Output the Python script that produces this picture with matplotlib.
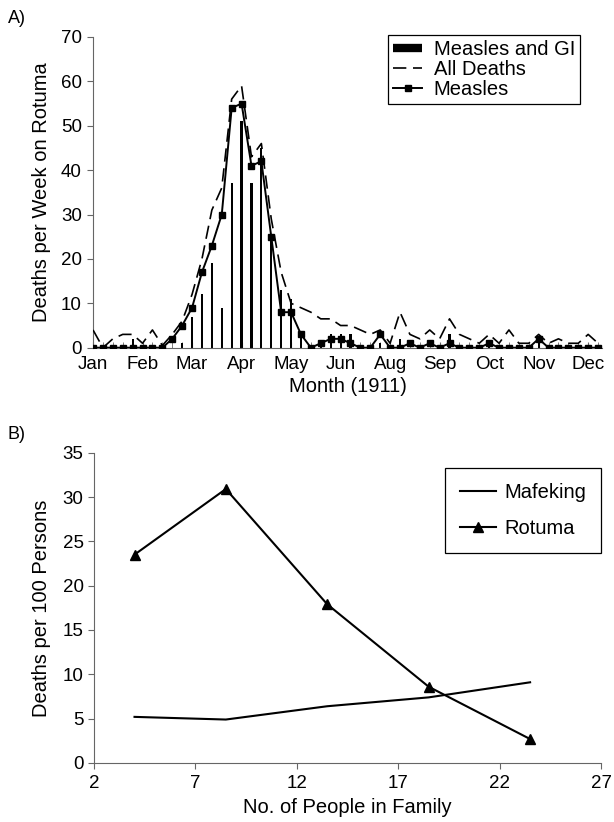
import matplotlib
matplotlib.use('Agg')
from matplotlib import pyplot as plt
from matplotlib.lines import Line2D

plt.rcParams['font.family'] = ['Liberation Sans', 'DejaVu Sans']

# A) weekly deaths on Rotuma, 1911 (52 weeks)
weeks = list(range(52))
measles_gi = [0, 0, 0, 0, 2, 0, 0, 0, 0, 1, 7, 12, 19, 9, 37, 51, 37, 45, 24, 13,
              11, 3, 0, 1, 3, 3, 3, 0, 0, 1, 0, 2, 0, 0, 0, 0, 3, 0, 0, 0,
              1, 0, 0, 0, 0, 1, 0, 0, 0, 0, 0, 0]
all_deaths = [4, 0, 2, 3, 3, 1, 4, 0.5, 3, 6, 12, 20, 31, 36, 56, 59, 43, 46, 29, 17,
              10, 9, 8, 6.5, 6.5, 5, 5, 4, 3, 4, 1, 8, 3, 2, 4, 2, 6.5, 3, 2, 1,
              3, 1, 4, 1, 1, 3, 1, 2, 1, 1, 3, 1]
measles = [0, 0, 0, 0, 0, 0, 0, 0, 2, 5, 9, 17, 23, 30, 54, 55, 41, 42, 25, 8,
           8, 3, 0, 1, 2, 2, 1, 0, 0, 3, 0, 0, 1, 0, 1, 0, 1, 0, 0, 0,
           1, 0, 0, 0, 0, 2, 0, 0, 0, 0, 0, 0]
month_labels = ['Jan', 'Feb', 'Mar', 'Apr', 'May', 'Jun', 'Aug', 'Sep', 'Oct', 'Nov', 'Dec']
month_weeks = [0, 5, 10, 15, 20, 25, 30, 35, 40, 45, 50]

# B) deaths by family size
family_size = [4, 8.5, 13.5, 18.5, 23.5]
mafeking = [5.2, 4.9, 6.4, 7.4, 9.1]
rotuma = [23.5, 30.9, 17.9, 8.6, 2.7]

axis_grey = '#666666'

fig = plt.figure(figsize=(6.14, 8.22), dpi=100)

# ---- panel A ----
ax1 = fig.add_axes([0.1515, 0.577, 0.829, 0.378])
ax1.bar(weeks, measles_gi, width=0.22, color='black', zorder=2)
l_all, = ax1.plot(weeks, all_deaths, color='black', lw=1.2, dashes=(8, 4), zorder=3)
l_mea, = ax1.plot(weeks, measles, color='black', lw=1.4, marker='s', markersize=4.8, zorder=4)
bar_handle = Line2D([], [], color='black', lw=6, solid_capstyle='butt')
ax1.set_xlim(0, 51.4)
ax1.set_ylim(0, 70)
ax1.set_yticks(range(0, 71, 10))
ax1.set_xticks(weeks, minor=True)
ax1.set_xticks(month_weeks)
ax1.set_xticklabels(month_labels)
ax1.tick_params(axis='x', which='minor', direction='in', length=4, color=axis_grey)
ax1.tick_params(axis='x', which='major', direction='in', length=4, pad=6, color=axis_grey)
ax1.tick_params(axis='y', direction='out', length=4, pad=4, color=axis_grey)
ax1.tick_params(labelsize=13.5)
ax1.set_xlabel('Month (1911)', fontsize=14.5, labelpad=3)
ax1.set_ylabel('Deaths per Week on Rotuma', fontsize=14.5, labelpad=7)
for s in ['top', 'right']:
    ax1.spines[s].set_visible(False)
for s in ['left', 'bottom']:
    ax1.spines[s].set_color(axis_grey)
leg1 = ax1.legend([bar_handle, l_all, l_mea], ['Measles and GI', 'All Deaths', 'Measles'],
                  loc='upper right', bbox_to_anchor=(0.957, 1.006), fontsize=14.5,
                  frameon=True, fancybox=False, edgecolor='black', framealpha=1,
                  handlelength=1.4, handletextpad=0.6, labelspacing=0.05,
                  borderpad=0.25, borderaxespad=0)
leg1.get_frame().set_linewidth(0.9)
fig.text(0.013, 0.978, 'A)', fontsize=13, va='center', ha='left')

# ---- panel B ----
ax2 = fig.add_axes([0.153, 0.0718, 0.826, 0.3775])
ax2.plot(family_size, mafeking, color='black', lw=1.5, label='Mafeking')
ax2.plot(family_size, rotuma, color='black', lw=1.5, marker='^', markersize=6.5,
         label='Rotuma')
ax2.set_xlim(2, 27)
ax2.set_ylim(0, 35)
ax2.set_xticks(range(2, 28, 5))
ax2.set_yticks(range(0, 36, 5))
ax2.tick_params(direction='out', length=4, color=axis_grey, labelsize=13.5)
ax2.tick_params(axis='x', pad=5)
ax2.set_xlabel('No. of People in Family', fontsize=14.5, labelpad=4)
ax2.set_ylabel('Deaths per 100 Persons', fontsize=14.5, labelpad=8)
for s in ['top', 'right']:
    ax2.spines[s].set_visible(False)
for s in ['left', 'bottom']:
    ax2.spines[s].set_color(axis_grey)
leg2 = ax2.legend(loc='upper right', bbox_to_anchor=(1.0, 0.951), fontsize=14.5,
                  frameon=True, fancybox=False, edgecolor='black', framealpha=1,
                  handlelength=1.8, handletextpad=0.4, labelspacing=0.85,
                  borderpad=0.75, borderaxespad=0)
leg2.get_frame().set_linewidth(0.9)
fig.text(0.013, 0.471, 'B)', fontsize=13, va='center', ha='left')

fig.savefig('out.png', dpi=100)
